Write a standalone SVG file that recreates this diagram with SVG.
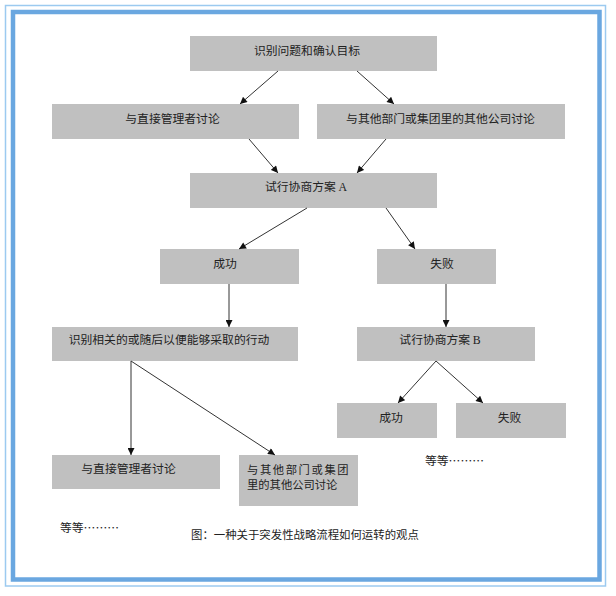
<svg xmlns="http://www.w3.org/2000/svg" width="616" height="596" viewBox="0 0 616 596">
<style>
.box{fill:#c0c0c0;}
.t{font-family:"Noto Sans CJK SC","Liberation Sans",sans-serif;font-size:11.8px;fill:#222;text-anchor:middle;}
.l{text-anchor:start;}
.s{font-size:11.3px;}
.lat{font-family:"Liberation Serif",serif;}
.c line{stroke:#333;stroke-width:1;marker-end:url(#ah);}
</style>
<defs>
<marker id="ah" viewBox="0 0 10 10" refX="10" refY="5" markerWidth="8" markerHeight="7" markerUnits="userSpaceOnUse" orient="auto">
<path d="M0,0 L10,5 L0,10 Z" fill="#111"/>
</marker>
</defs>
<rect x="0" y="0" width="616" height="596" fill="#ffffff"/>
<rect x="5.5" y="5.5" width="600" height="580.5" fill="none" stroke="#9ccaf0" stroke-width="1.5"/>
<rect x="13" y="12" width="586.5" height="567.5" fill="none" stroke="#6aa7e0" stroke-width="4.5"/>

<g id="n1"><rect class="box" x="190" y="36" width="247" height="35"/><text class="t" x="307" y="55">识别问题和确认目标</text></g>
<g id="n2"><rect class="box" x="52" y="104" width="247" height="35"/><text class="t" x="172.5" y="123">与直接管理者讨论</text></g>
<g id="n3"><rect class="box" x="317" y="104" width="248" height="35"/><text class="t" x="440.5" y="123">与其他部门或集团里的其他公司讨论</text></g>
<g id="n4"><rect class="box" x="190" y="173" width="247" height="35"/><text class="t" x="306" y="190.5">试行协商方案 <tspan class="lat">A</tspan></text></g>
<g id="n5"><rect class="box" x="160" y="249" width="139" height="35"/><text class="t" x="225" y="268">成功</text></g>
<g id="n6"><rect class="box" x="377" y="249" width="119" height="35"/><text class="t" x="442" y="268">失败</text></g>
<g id="n7"><rect class="box" x="52" y="327" width="246" height="34"/><text class="t" x="169" y="344">识别相关的或随后以便能够采取的行动</text></g>
<g id="n8"><rect class="box" x="357" y="327" width="178" height="34"/><text class="t" x="440" y="344">试行协商方案 <tspan class="lat">B</tspan></text></g>
<g id="n9"><rect class="box" x="337" y="403" width="100" height="35"/><text class="t" x="391" y="422">成功</text></g>
<g id="n10"><rect class="box" x="456" y="403" width="110" height="35"/><text class="t" x="509.5" y="422">失败</text></g>
<g id="n11"><rect class="box" x="52" y="455" width="168" height="34"/><text class="t" x="128.5" y="472.5">与直接管理者讨论</text></g>
<g id="n12"><rect class="box" x="239" y="455" width="119" height="51"/><text class="t l s" x="247" y="474" letter-spacing="1.6">与其他部门或集团</text><text class="t l s" x="247" y="489">里的其他公司讨论</text></g>

<g id="connectors" class="c">
<line x1="278" y1="71" x2="240" y2="104"/>
<line x1="357" y1="71" x2="394" y2="104"/>
<line x1="249" y1="139" x2="278" y2="173"/>
<line x1="386" y1="139" x2="357" y2="173"/>
<line x1="307" y1="208" x2="239" y2="249"/>
<line x1="386" y1="208" x2="415" y2="249"/>
<line x1="229" y1="284" x2="229" y2="327"/>
<line x1="446" y1="284" x2="446" y2="327"/>
<line x1="131" y1="361" x2="131" y2="455"/>
<line x1="131" y1="361" x2="275" y2="455"/>
<line x1="436" y1="361" x2="398" y2="403"/>
<line x1="436" y1="361" x2="483" y2="403"/>
</g>

<text class="t l" x="425" y="464.5">等等………</text>
<text class="t l" x="60" y="532">等等………</text>
<text class="t l" x="191" y="538.5" style="font-size:11.4px">图：一种关于突发性战略流程如何运转的观点</text>
</svg>
